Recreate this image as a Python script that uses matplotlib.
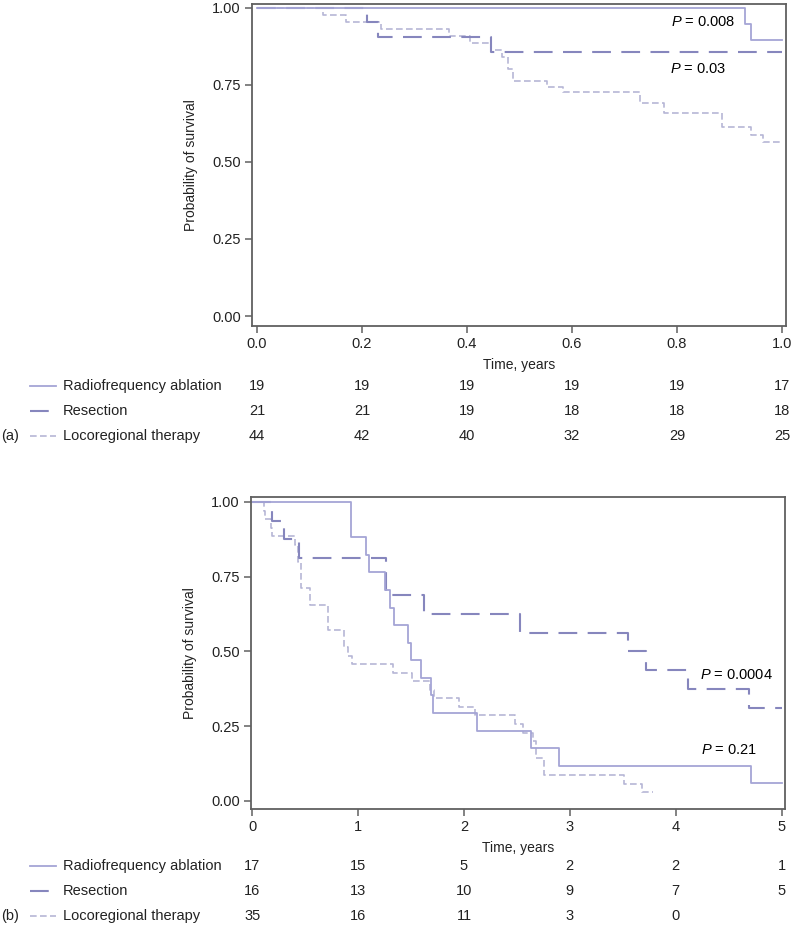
import matplotlib
matplotlib.use("Agg")
import matplotlib.pyplot as plt
from matplotlib.lines import Line2D
from matplotlib.transforms import blended_transform_factory

plt.rcParams['font.family'] = ['Liberation Sans', 'DejaVu Sans']
plt.rcParams['mathtext.fontset'] = 'custom'
plt.rcParams['mathtext.it'] = 'Liberation Sans:italic'
plt.rcParams['mathtext.rm'] = 'Liberation Sans'

groups = ['Radiofrequency ablation', 'Resection', 'Locoregional therapy']

# (a) first year
a_rfa_t = [0, 0.93, 0.94, 1.0]
a_rfa_s = [1.0, 0.947, 0.895, 0.895]
a_res_t = [0, 0.21, 0.23, 0.445, 1.0]
a_res_s = [1.0, 0.952, 0.905, 0.857, 0.857]
a_loc_t = [0, 0.126, 0.17, 0.236, 0.366, 0.405, 0.445, 0.466, 0.479, 0.488,
           0.553, 0.583, 0.73, 0.776, 0.886, 0.94, 0.963, 1.0]
a_loc_s = [1.0, 0.977, 0.955, 0.932, 0.909, 0.886, 0.864, 0.841, 0.80, 0.761,
           0.744, 0.727, 0.69, 0.657, 0.612, 0.587, 0.565, 0.565]
a_ticks = [0.0, 0.2, 0.4, 0.6, 0.8, 1.0]
a_tick_labels = ['0.0', '0.2', '0.4', '0.6', '0.8', '1.0']
a_risk_rfa = [19, 19, 19, 19, 19, 17]
a_risk_res = [21, 21, 19, 18, 18, 18]
a_risk_loc = [44, 42, 40, 32, 29, 25]
a_pvals = ['0.008', '0.03']

# (b) five years
b_rfa_t = [0, 0.93, 1.07, 1.10, 1.25, 1.30, 1.34, 1.47, 1.50, 1.59, 1.69, 1.71,
           2.12, 2.63, 2.90, 4.71, 5.0]
b_rfa_s = [1.0, 0.882, 0.824, 0.765, 0.706, 0.647, 0.588, 0.529, 0.471, 0.412,
           0.353, 0.294, 0.235, 0.176, 0.118, 0.059, 0.059]
b_res_t = [0, 0.19, 0.30, 0.44, 1.26, 1.62, 2.53, 3.55, 3.72, 4.12, 4.69, 5.0]
b_res_s = [1.0, 0.9375, 0.875, 0.8125, 0.6875, 0.625, 0.5625, 0.5, 0.4375,
           0.375, 0.3125, 0.3125]
b_loc_t = [0, 0.11, 0.12, 0.18, 0.19, 0.40, 0.43, 0.46, 0.55, 0.72, 0.87, 0.90,
           0.94, 1.33, 1.51, 1.68, 1.72, 1.95, 2.10, 2.48, 2.56, 2.65, 2.68,
           2.76, 3.51, 3.68, 3.79]
b_loc_s = [1.0, 0.971, 0.943, 0.914, 0.886, 0.857, 0.80, 0.714, 0.657, 0.571,
           0.514, 0.486, 0.457, 0.429, 0.40, 0.371, 0.343, 0.314, 0.286, 0.257,
           0.229, 0.20, 0.143, 0.086, 0.057, 0.029, 0.029]
b_ticks = [0, 1, 2, 3, 4, 5]
b_tick_labels = ['0', '1', '2', '3', '4', '5']
b_risk_rfa = [17, 15, 5, 2, 2, 1]
b_risk_res = [16, 13, 10, 9, 7, 5]
b_risk_loc = [35, 16, 11, 3, 0]
b_pvals = ['0.0004', '0.21']

y_ticks = [0.0, 0.25, 0.5, 0.75, 1.0]
y_tick_labels = ['0.00', '0.25', '0.50', '0.75', '1.00']

c_rfa = '#a5a5d6'
c_res = '#8686bd'
c_loc = '#b6b6d6'
sty_rfa = dict(color=c_rfa, lw=1.3, linestyle='-')
sty_res = dict(color=c_res, lw=1.5, linestyle=(0, (9, 5)))
sty_loc = dict(color=c_loc, lw=1.2, linestyle=(0, (4, 2)))
spine_c = '#606060'
txt_c = '#222222'
fs = 10.5

W, H = 794, 933
fig = plt.figure(figsize=(W / 100, H / 100), dpi=100)


def style_axes(ax, xticks, xlabels):
    for s in ax.spines.values():
        s.set_color(spine_c)
        s.set_linewidth(1.3)
    ax.set_yticks(y_ticks)
    ax.set_yticklabels(y_tick_labels)
    ax.set_xticks(xticks)
    ax.set_xticklabels(xlabels)
    ax.tick_params(direction='out', length=5, width=1.1, color=spine_c,
                   labelsize=fs, labelcolor=txt_c, pad=3)
    ax.set_ylabel('Probability of survival', fontsize=10, color=txt_c, labelpad=10)
    ax.set_xlabel('Time, years', fontsize=10, color=txt_c, labelpad=5)


def risk_table(ax, rows_y, risks, tag):
    tr = blended_transform_factory(ax.transData, fig.transFigure)
    styles = [sty_rfa, sty_res, sty_loc]
    for y, name, sty, counts in zip(rows_y, groups, styles, risks):
        yf = 1 - y / H
        fig.add_artist(Line2D([30 / W, 56 / W], [yf, yf], transform=fig.transFigure, **sty))
        fig.text(63 / W, yf, name, fontsize=fs, va='center', ha='left', color=txt_c)
        for x, n in zip(ax.get_xticks(), counts):
            ax.text(x, yf, str(n), transform=tr, fontsize=fs, va='center', ha='center',
                    color=txt_c, clip_on=False)
    fig.text(1 / W, 1 - rows_y[-1] / H, tag, fontsize=fs, va='center', ha='left', color=txt_c)


# panel (a)
ax1 = fig.add_axes([252 / W, 1 - 326 / H, 534 / W, 322 / H])
ax1.step(a_loc_t, a_loc_s, where='post', **sty_loc)
ax1.step(a_res_t, a_res_s, where='post', **sty_res)
ax1.step(a_rfa_t, a_rfa_s, where='post', **sty_rfa)
ax1.set_xlim(-0.0095, 1.0076)
ax1.set_ylim(-0.0324, 1.012)
style_axes(ax1, a_ticks, a_tick_labels)
ax1.text(0.85, 0.952, '$\\it{P}$ = ' + a_pvals[0], ha='center', va='center', fontsize=fs)
ax1.text(0.84, 0.80, '$\\it{P}$ = ' + a_pvals[1], ha='center', va='center', fontsize=fs)
risk_table(ax1, [386, 411, 436], [a_risk_rfa, a_risk_res, a_risk_loc], '(a)')

# panel (b)
ax2 = fig.add_axes([251 / W, 1 - 809 / H, 534 / W, 312 / H])
ax2.step(b_loc_t, b_loc_s, where='post', **sty_loc)
ax2.step(b_res_t, b_res_s, where='post', **sty_res)
ax2.step(b_rfa_t, b_rfa_s, where='post', **sty_rfa)
ax2.set_xlim(-0.012, 5.033)
ax2.set_ylim(-0.0268, 1.0167)
style_axes(ax2, b_ticks, b_tick_labels)
ax2.text(4.57, 0.42, '$\\it{P}$ = ' + b_pvals[0], ha='center', va='center', fontsize=fs)
ax2.text(4.5, 0.17, '$\\it{P}$ = ' + b_pvals[1], ha='center', va='center', fontsize=fs)
risk_table(ax2, [866, 891, 916], [b_risk_rfa, b_risk_res, b_risk_loc], '(b)')

fig.savefig('out.png', dpi=100)
